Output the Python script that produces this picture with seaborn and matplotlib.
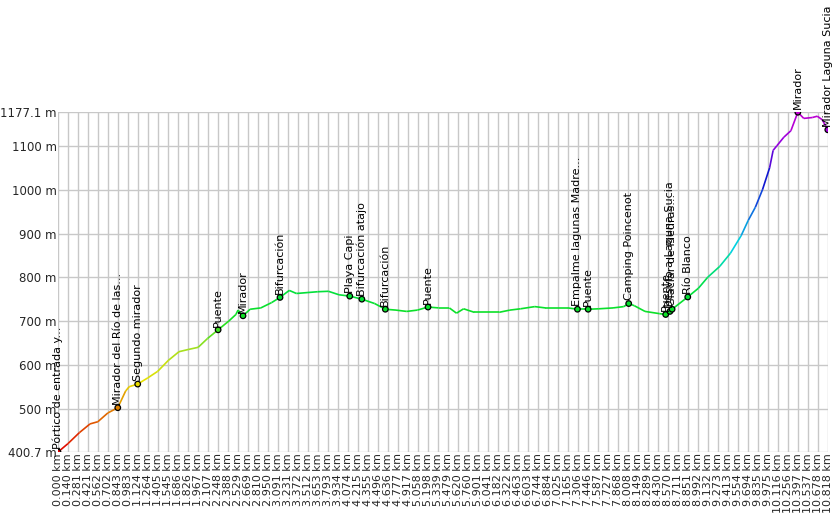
import numpy as np
import pandas as pd
import matplotlib
matplotlib.use("Agg")
import matplotlib.pyplot as plt
import seaborn as sns
from matplotlib.collections import LineCollection
from matplotlib.colors import LinearSegmentedColormap

dist_km = [0.0, 0.14, 0.3, 0.45, 0.56, 0.7, 0.84, 0.95, 1.0, 1.12, 1.26, 1.4, 1.55, 1.7, 1.83, 1.97,
           2.1, 2.25, 2.4, 2.5, 2.53, 2.6, 2.7, 2.85, 3.0, 3.12, 3.25, 3.35, 3.5, 3.65, 3.8, 3.95,
           4.1, 4.27, 4.45, 4.6, 4.75, 4.9, 5.05, 5.2, 5.35, 5.5, 5.6, 5.7, 5.85, 6.0, 6.2, 6.35,
           6.5, 6.7, 6.85, 7.0, 7.165, 7.3, 7.45, 7.6, 7.8, 7.95, 8.02, 8.1, 8.25, 8.45, 8.54, 8.6,
           8.63, 8.85, 9.0, 9.13, 9.3, 9.45, 9.6, 9.7, 9.8, 9.9, 10.0, 10.05, 10.1, 10.2, 10.3,
           10.397, 10.48, 10.6, 10.67, 10.74, 10.818]
elev_m = [400.7, 420, 445, 465, 470, 490, 502, 540, 550, 556, 570, 585, 610, 630, 635, 640,
          660, 680, 700, 715, 725, 712, 727, 730, 742, 754, 770, 763, 765, 767, 768, 760,
          757, 750, 740, 727, 725, 722, 725, 732, 730, 730, 718, 728, 720, 720, 720, 725,
          728, 733, 730, 730, 730, 727, 727, 728, 730, 733, 740, 735, 722, 717, 715, 722,
          727, 755, 775, 800, 825, 855, 895, 930, 960, 1000, 1050, 1090, 1100, 1120, 1135,
          1177.1, 1163, 1165, 1168, 1160, 1137]

wp_km = [0.0, 0.84, 1.12, 2.25, 2.6, 3.12, 4.1, 4.27, 4.6, 5.2, 7.3, 7.45, 8.02, 8.54, 8.6, 8.63, 8.85, 10.397, 10.818]
wp_elev = [400.7, 502, 556, 680, 712, 754, 757, 750, 727, 732, 727, 727, 740, 715, 722, 727, 755, 1177.1, 1137]
wp_names = ["Pórtico de entrada y...", "Mirador del Río de las...", "Segundo mirador", "Puente", "Mirador",
            "Bifurcación", "Playa Capi", "Bifurcación atajo", "Bifurcación", "Puente",
            "Empalme lagunas Madre...", "Puente", "Camping Poincenot", "Puente", "Desvío a Laguna Sucia",
            "Glaciar de Piedras...", "Río Blanco", "Mirador", "Mirador Laguna Sucia"]

y_ticks = [400.7, 500, 600, 700, 800, 900, 1000, 1100, 1177.1]
x_max = 10.818
n_xticks = 78

sns.set_theme(style="whitegrid")
plt.rcParams['font.family'] = ['DejaVu Sans']
fig = plt.figure(figsize=(8.37, 5.22), dpi=100)
ax = fig.add_axes([0.0693, 0.134, 0.9197, 0.651])

ymin, ymax = 400.7, 1177.1
stops = [(400.7, "#e00000"), (500, "#e08000"), (560, "#e8e000"), (640, "#a0e020"),
         (700, "#10e020"), (780, "#00e040"), (870, "#00d8e0"), (960, "#1060e0"),
         (1030, "#1010d0"), (1100, "#9000e0"), (1177.1, "#c000d0")]
cmap = LinearSegmentedColormap.from_list("elev", [((v - ymin) / (ymax - ymin), c) for v, c in stops])
def col(e):
    return cmap((e - ymin) / (ymax - ymin))

x = np.array(dist_km); y = np.array(elev_m)
segs = np.stack([np.column_stack([x[:-1], y[:-1]]), np.column_stack([x[1:], y[1:]])], axis=1)
colors = [col((a + b) / 2) for a, b in zip(y[:-1], y[1:])]
ax.add_collection(LineCollection(segs, colors=colors, linewidth=1.2, zorder=3))

df = pd.DataFrame({"km": wp_km, "elev": wp_elev})
sns.scatterplot(data=df, x="km", y="elev", ax=ax, marker="o", s=16,
                c=[col(e) for e in wp_elev], edgecolor="black", linewidth=0.9, zorder=4)
for k, e, n in zip(wp_km, wp_elev, wp_names):
    ax.text(k, e + 7, n, rotation=90, ha="center", va="bottom", fontsize=8, color="black",
            clip_on=False, zorder=5)

ax.set_xlim(0, x_max)
ax.set_ylim(ymin, ymax)
xt = np.linspace(0, x_max, n_xticks)
ax.set_xticks(xt)
ax.set_xticklabels([f"{v:.3f} km" for v in xt], rotation=90, fontsize=8)
ax.set_yticks(y_ticks)
ax.set_yticklabels([f"{v:g} m" for v in y_ticks], fontsize=8.5)
ax.tick_params(axis="both", pad=1, length=0)
ax.set_xlabel(""); ax.set_ylabel("")
ax.grid(True, color="#c8c8c8", linewidth=1)
for s in ax.spines.values():
    s.set_visible(False)
ax.set_facecolor("white")
fig.savefig("out.png", dpi=100)
